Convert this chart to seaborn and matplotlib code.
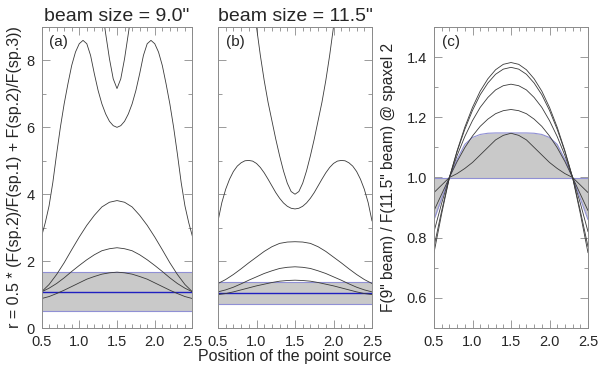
import matplotlib
matplotlib.use("Agg")
import matplotlib.pyplot as plt
import seaborn as sns
from matplotlib.ticker import MultipleLocator

# x grids
X10 = [0.5, 0.6, 0.7, 0.8, 0.9, 1.0, 1.1, 1.2, 1.3, 1.4, 1.5,
       1.6, 1.7, 1.8, 1.9, 2.0, 2.1, 2.2, 2.3, 2.4, 2.5]
X05 = [0.5, 0.55, 0.6, 0.65, 0.7, 0.75, 0.8, 0.85, 0.9, 0.95, 1.0,
       1.05, 1.1, 1.15, 1.2, 1.25, 1.3, 1.35, 1.4, 1.45, 1.5,
       1.55, 1.6, 1.65, 1.7, 1.75, 1.8, 1.85, 1.9, 1.95, 2.0,
       2.05, 2.1, 2.15, 2.2, 2.25, 2.3, 2.35, 2.4, 2.45, 2.5]

# panel (a): beam size 9.0"
A1 = [0.88, 0.94, 1.03, 1.13, 1.24, 1.35, 1.46, 1.54, 1.61, 1.65, 1.67,
      1.65, 1.61, 1.54, 1.46, 1.35, 1.24, 1.13, 1.03, 0.94, 0.88]
A2 = [1.08, 1.19, 1.33, 1.50, 1.69, 1.87, 2.04, 2.19, 2.31, 2.37, 2.40,
      2.37, 2.31, 2.19, 2.04, 1.87, 1.69, 1.50, 1.33, 1.19, 1.08]
A3 = [1.08, 1.30, 1.60, 1.95, 2.34, 2.72, 3.07, 3.37, 3.62, 3.76, 3.81,
      3.76, 3.62, 3.37, 3.07, 2.72, 2.34, 1.95, 1.60, 1.30, 1.08]
A4 = [2.73, 3.15, 3.65, 4.35, 5.2, 6.0, 6.7, 7.3, 7.85, 8.25, 8.5,
      8.6, 8.5, 8.15, 7.6, 7.1, 6.7, 6.4, 6.18, 6.05, 6.0,
      6.05, 6.18, 6.4, 6.7, 7.1, 7.6, 8.15, 8.5, 8.6, 8.5,
      8.25, 7.85, 7.3, 6.7, 6.0, 5.2, 4.35, 3.65, 3.15, 2.73]
A5_X = [1.25, 1.3, 1.35, 1.4, 1.45, 1.5, 1.55, 1.6, 1.65, 1.7, 1.75]
A5 = [10.4, 9.6, 8.8, 8.05, 7.45, 7.16, 7.45, 8.05, 8.8, 9.6, 10.4]
A_BAND = (0.5, 1.68)
A_MEAN = 1.08

# panel (b): beam size 11.5"
B1 = [1.00, 1.03, 1.08, 1.14, 1.20, 1.26, 1.31, 1.36, 1.40, 1.42, 1.43,
      1.42, 1.40, 1.36, 1.31, 1.26, 1.20, 1.14, 1.08, 1.03, 1.00]
B2 = [1.08, 1.14, 1.22, 1.32, 1.43, 1.53, 1.63, 1.71, 1.78, 1.815, 1.83,
      1.815, 1.78, 1.71, 1.63, 1.53, 1.43, 1.32, 1.22, 1.14, 1.08]
B3 = [1.33, 1.45, 1.60, 1.77, 1.95, 2.12, 2.29, 2.43, 2.53, 2.57, 2.58,
      2.57, 2.53, 2.43, 2.29, 2.12, 1.95, 1.77, 1.60, 1.45, 1.33]
B4 = [3.2, 3.75, 4.15, 4.45, 4.68, 4.84, 4.94, 5.0, 5.01, 4.99, 4.92,
      4.8, 4.64, 4.45, 4.25, 4.05, 3.88, 3.74, 3.64, 3.58, 3.56,
      3.58, 3.64, 3.74, 3.88, 4.05, 4.25, 4.45, 4.64, 4.8, 4.92,
      4.99, 5.01, 5.0, 4.94, 4.84, 4.68, 4.45, 4.15, 3.75, 3.2]
B5_X = [0.9, 0.95, 1.0, 1.05, 1.1, 1.15, 1.2, 1.25, 1.3, 1.35, 1.4, 1.45, 1.5,
        1.55, 1.6, 1.65, 1.7, 1.75, 1.8, 1.85, 1.9, 1.95, 2.0, 2.05, 2.1]
B5 = [10.8, 9.9, 9.0, 8.15, 7.4, 6.75, 6.2, 5.65, 5.15, 4.7, 4.33, 4.08, 4.0,
      4.08, 4.33, 4.7, 5.15, 5.65, 6.2, 6.75, 7.4, 8.15, 9.0, 9.9, 10.8]
B_BAND = (0.73, 1.39)
B_MEAN = 1.06

# panel (c): flux ratio at spaxel 2
C1 = [0.75, 0.88, 1.0, 1.089, 1.167, 1.233, 1.287, 1.328, 1.358, 1.376, 1.382,
      1.376, 1.358, 1.328, 1.287, 1.233, 1.167, 1.089, 1.0, 0.88, 0.75]
C2 = [0.77, 0.89, 1.0, 1.086, 1.160, 1.223, 1.275, 1.314, 1.343, 1.360, 1.366,
      1.360, 1.343, 1.314, 1.275, 1.223, 1.160, 1.086, 1.0, 0.89, 0.77]
C3 = [0.82, 0.915, 1.0, 1.073, 1.136, 1.189, 1.233, 1.266, 1.291, 1.305, 1.31,
      1.305, 1.291, 1.266, 1.233, 1.189, 1.136, 1.073, 1.0, 0.915, 0.82]
C4 = [0.89, 0.945, 1.0, 1.053, 1.099, 1.138, 1.170, 1.194, 1.212, 1.222, 1.226,
      1.222, 1.212, 1.194, 1.170, 1.138, 1.099, 1.053, 1.0, 0.945, 0.89]
C5 = [0.95, 0.975, 1.0, 1.013, 1.03, 1.05, 1.075, 1.10, 1.125, 1.14, 1.147,
      1.14, 1.125, 1.10, 1.075, 1.05, 1.03, 1.013, 1.0, 0.975, 0.95]
C_EDGE = [0.86, 0.93, 1.0, 1.06, 1.11, 1.133, 1.143, 1.147, 1.148, 1.148, 1.148,
          1.148, 1.148, 1.147, 1.143, 1.133, 1.11, 1.06, 1.0, 0.93, 0.86]
C_BASE = 1.0

GRAY = "#c9c9c9"
EDGE = "#9090d4"
MEAN = "#1f1fc0"
CURVE = "#3a3a3a"
FRAME = "#8a8a8a"

sns.set_style("ticks")
plt.rcParams["font.family"] = ["Liberation Sans", "DejaVu Sans"]


def curve(ax, x, y, color=CURVE, lw=0.6):
    sns.lineplot(x=x, y=y, ax=ax, color=color, linewidth=lw, sort=False)


def style_axes(ax, ymajor, yminor, ylim, show_ylabels=True):
    ax.set_xlim(0.5, 2.5)
    ax.set_ylim(*ylim)
    ax.xaxis.set_major_locator(MultipleLocator(0.5))
    ax.xaxis.set_minor_locator(MultipleLocator(0.1))
    ax.yaxis.set_major_locator(MultipleLocator(ymajor))
    ax.yaxis.set_minor_locator(MultipleLocator(yminor))
    ax.tick_params(which="both", direction="in", top=True, right=True,
                   color=FRAME, width=0.6, labelsize=10.5, pad=5)
    ax.tick_params(which="major", length=6)
    ax.tick_params(which="minor", length=3)
    if not show_ylabels:
        ax.tick_params(axis="y", labelleft=False)
    for s in ax.spines.values():
        s.set_color(FRAME)
        s.set_linewidth(0.7)
    ax.set_xlabel("")
    ax.set_ylabel("")


fig = plt.figure(figsize=(6, 3.71), dpi=100)
bottom, height = 43 / 371, 301 / 371
ax_a = fig.add_axes([41.5 / 600, bottom, 151 / 600, height])
ax_b = fig.add_axes([218 / 600, bottom, 154 / 600, height])
ax_c = fig.add_axes([434 / 600, bottom, 154 / 600, height])

# (a)
ax_a.axhspan(A_BAND[0], A_BAND[1], color=GRAY, lw=0)
ax_a.axhline(A_BAND[0], color=EDGE, lw=0.8)
ax_a.axhline(A_BAND[1], color=EDGE, lw=0.8)
ax_a.axhline(A_MEAN, color=MEAN, lw=1.0)
for y in (A1, A2, A3):
    curve(ax_a, X10, y)
curve(ax_a, X05, A4)
curve(ax_a, A5_X, A5)
style_axes(ax_a, 2, 1, (0, 9))
ax_a.set_title('beam size = 9.0"', fontsize=14, pad=4)
ax_a.set_ylabel("r = 0.5 * (F(sp.2)/F(sp.1) + F(sp.2)/F(sp.3))",
                fontsize=11.5, labelpad=3)

# (b)
ax_b.axhspan(B_BAND[0], B_BAND[1], color=GRAY, lw=0)
ax_b.axhline(B_BAND[0], color=EDGE, lw=0.8)
ax_b.axhline(B_BAND[1], color=EDGE, lw=0.8)
ax_b.axhline(B_MEAN, color=MEAN, lw=1.0)
for y in (B1, B2, B3):
    curve(ax_b, X10, y)
curve(ax_b, X05, B4)
curve(ax_b, B5_X, B5)
style_axes(ax_b, 2, 1, (0, 9), show_ylabels=False)
ax_b.set_title('beam size = 11.5"', fontsize=14, pad=4)
ax_b.set_xlabel("Position of the point source", fontsize=11.5, labelpad=0)

# (c)
ax_c.fill_between(X10, C_BASE, C_EDGE, color=GRAY, lw=0)
ax_c.axhline(C_BASE, color=EDGE, lw=0.8)
curve(ax_c, X10, C_EDGE, color=EDGE, lw=0.8)
for y in (C1, C2, C3, C4, C5):
    curve(ax_c, X10, y)
style_axes(ax_c, 0.2, 0.1, (0.5, 1.5))
ax_c.set_ylabel('F(9" beam) / F(11.5" beam) @ spaxel 2', fontsize=11.2, labelpad=8)

for ax, lab in ((ax_a, "(a)"), (ax_b, "(b)"), (ax_c, "(c)")):
    ax.text(0.05, 0.975, lab, transform=ax.transAxes, ha="left", va="top",
            fontsize=11)

fig.savefig("out.png", dpi=100)
